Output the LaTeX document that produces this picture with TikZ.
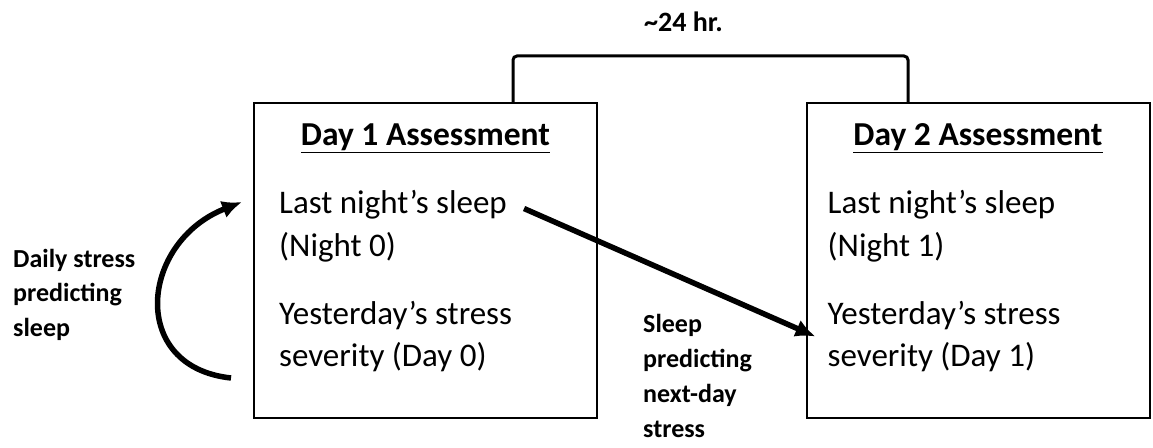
\documentclass[tikz,border=0pt]{standalone}
\usepackage{fontspec}
\setmainfont{Carlito}
\usetikzlibrary{positioning,arrows.meta}

\begin{document}
\begin{tikzpicture}[x=1pt, y=1pt, >={Latex[length=20pt,width=18pt]}]
    \tikzstyle{box}=[rectangle, draw, line width=2pt, minimum width=343pt, minimum height=315pt]
    \tikzstyle{head}=[font=\fontsize{33.5}{38}\selectfont\bfseries, inner sep=0pt]
    \tikzstyle{item}=[font=\fontsize{33}{43}\selectfont, align=left, inner sep=0pt]
    \tikzstyle{note}=[font=\fontsize{26}{35}\selectfont\bfseries, align=left, inner sep=0pt]
    \tikzstyle{link}=[->, line width=5.5pt]

    \useasboundingbox (0,0) rectangle (1153,447);

    \node[box] (day1) at (425.5,186.5) {};
    \node[box] (day2) at (978,186.5) {};

    \node[head, anchor=base] (head1) at ([yshift=-44pt]day1.north) {\underline{Day 1 Assessment}};
    \node[head, anchor=base] (head2) at ([yshift=-44pt]day2.north) {\underline{Day 2 Assessment}};

    \node[item, anchor=base west] (sleep0) at ([xshift=26pt, yshift=-155pt]day1.north west) {Last night’s sleep\\(Night 0)};
    \node[item, anchor=base west] (stress0) at ([xshift=26pt, yshift=-265pt]day1.north west) {Yesterday’s stress\\severity (Day 0)};
    \node[item, anchor=base west] (sleep1) at ([xshift=22pt, yshift=-155pt]day2.north west) {Last night’s sleep\\(Night 1)};
    \node[item, anchor=base west] (stress1) at ([xshift=22pt, yshift=-265pt]day2.north west) {Yesterday’s stress\\severity (Day 1)};

    \node[note, font=\fontsize{28}{35}\selectfont\bfseries, anchor=base] (gap) at (683.5,415) {\textasciitilde24 hr.};
    \node[note, anchor=base west] (back) at (13,110) {Daily stress\\predicting\\sleep};
    \node[note, anchor=base west] (next) at (643,10) {Sleep\\predicting\\next-day\\stress};

    % time span between the two assessments
    \draw[line width=3pt, rounded corners=4pt] ([xshift=87.5pt]day1.north) -- ++(0,46) -| ([xshift=-70pt]day2.north);

    \draw[link] ([xshift=-22pt, yshift=-117.5pt]day1.west) .. controls (128,80) and (140,205) .. ([xshift=-11pt, yshift=58.5pt]day1.west);
    \draw[link] ([shift={(17pt,-18pt)}]sleep0.north east) -- ([xshift=-12pt]stress1.west);
\end{tikzpicture}
\end{document}
